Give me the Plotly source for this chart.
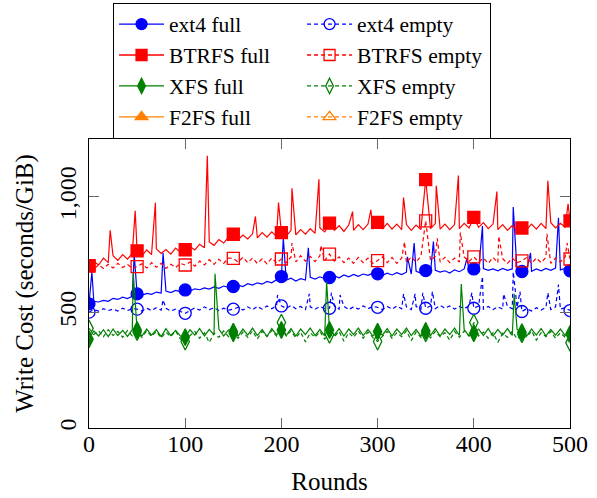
import plotly.graph_objects as go

# Rounds sampled every 5 rounds (0..500)
rounds = list(range(0, 501, 5))

ext4_full = [537, 548, 545, 552, 548, 561, 556, 566, 560, 570, 580,
             574, 582, 578, 588, 584, 592, 586, 595, 590, 597,
             592, 602, 598, 606, 601, 610, 604, 614, 608, 612,
             618, 612, 624, 618, 628, 622, 634, 628, 640, 655,
             640, 648, 636, 646, 640, 652, 644, 654, 646, 651,
             658, 650, 662, 654, 664, 656, 666, 660, 670, 667,
             660, 670, 662, 672, 664, 674, 666, 678, 670, 681,
             672, 682, 674, 680, 670, 684, 676, 688, 680, 688,
             680, 690, 682, 688, 680, 690, 682, 688, 678, 677,
             686, 678, 688, 680, 690, 682, 692, 684, 690, 680]
ext4_full_spike_rounds = [3, 47, 77, 202, 228, 331, 338, 358, 393, 409, 441, 459, 488]
ext4_full_spike_values = [675, 750, 757, 822, 779, 740, 800, 806, 735, 874, 956, 757, 909]

ext4_empty = [501, 512, 506, 516, 508, 514, 506, 518, 508, 516, 514,
              506, 518, 508, 520, 510, 518, 506, 514, 504, 496,
              508, 520, 510, 524, 512, 520, 508, 518, 510, 514,
              522, 510, 524, 512, 526, 514, 528, 516, 530, 528,
              518, 530, 516, 526, 512, 524, 514, 526, 516, 518,
              528, 514, 526, 512, 524, 514, 528, 516, 526, 522,
              512, 526, 514, 528, 516, 524, 512, 526, 514, 518,
              528, 516, 530, 518, 528, 514, 526, 516, 528, 518,
              528, 514, 526, 512, 524, 514, 526, 516, 522, 504,
              516, 506, 520, 510, 522, 512, 524, 514, 520, 508]
ext4_empty_spike_rounds = [77, 196, 229, 252, 261, 327, 339, 347, 357, 398, 409, 431, 441, 448, 477, 488]
ext4_empty_spike_values = [554, 575, 580, 585, 575, 580, 580, 585, 590, 585, 655, 580, 675, 590, 585, 620]

btrfs_full = [702, 720, 705, 735, 715, 745, 725, 750, 730, 755, 766,
              745, 770, 750, 775, 755, 772, 752, 778, 760, 771,
              785, 770, 795, 780, 805, 790, 815, 800, 825, 838,
              815, 835, 818, 840, 822, 845, 825, 848, 828, 845,
              830, 855, 835, 858, 838, 862, 842, 865, 848, 886,
              855, 875, 850, 878, 855, 880, 858, 882, 860, 889,
              862, 885, 860, 882, 858, 880, 855, 878, 858, 1074,
              862, 884, 860, 882, 858, 880, 862, 885, 865, 911,
              868, 888, 862, 882, 858, 880, 855, 876, 852, 865,
              858, 882, 860, 885, 862, 888, 865, 885, 868, 896]
btrfs_full_spike_rounds = [22, 48, 69, 123, 173, 197, 211, 239, 274, 293, 327, 361, 384, 424, 477, 498]
btrfs_full_spike_values = [855, 939, 974, 1177, 915, 975, 1037, 1076, 936, 944, 997, 1048, 1092, 1023, 1069, 970]

btrfs_empty = [700, 688, 705, 690, 708, 692, 712, 694, 708, 690, 698,
               710, 692, 715, 695, 712, 690, 708, 694, 712, 705,
               718, 700, 722, 705, 728, 708, 730, 712, 735, 734,
               718, 738, 715, 735, 712, 732, 710, 735, 714, 731,
               715, 740, 718, 745, 722, 742, 720, 745, 725, 752,
               722, 740, 715, 735, 712, 738, 715, 735, 712, 724,
               740, 715, 738, 712, 735, 715, 740, 718, 742, 896,
               725, 742, 718, 738, 715, 735, 718, 740, 720, 740,
               718, 735, 712, 738, 715, 732, 712, 735, 715, 723,
               738, 712, 735, 715, 738, 712, 735, 718, 740, 731]
btrfs_empty_spike_rounds = [211, 241, 328, 362, 386, 426, 476, 497]
btrfs_empty_spike_values = [800, 790, 805, 820, 845, 830, 840, 800]

xfs_full = [384, 420, 398, 425, 395, 428, 400, 422, 396, 426, 424,
            398, 428, 402, 425, 395, 430, 400, 422, 398, 393,
            425, 402, 430, 398, 426, 404, 428, 398, 424, 417,
            398, 428, 402, 432, 400, 426, 396, 430, 404, 424,
            400, 430, 398, 428, 404, 432, 400, 426, 398, 424,
            402, 430, 398, 428, 404, 432, 400, 426, 398, 417,
            402, 430, 398, 428, 404, 432, 400, 426, 398, 420,
            400, 430, 398, 428, 404, 432, 400, 426, 398, 410,
            428, 400, 430, 398, 426, 402, 430, 400, 426, 414,
            398, 428, 402, 430, 398, 426, 402, 428, 400, 407]
xfs_full_spike_rounds = [46, 131, 247, 387, 442]
xfs_full_spike_values = [670, 667, 633, 623, 580]

xfs_empty = [431, 405, 420, 395, 425, 400, 418, 392, 422, 398, 415,
             392, 420, 396, 418, 390, 415, 395, 420, 385, 374,
             400, 418, 388, 412, 370, 410, 392, 420, 395, 410,
             388, 415, 392, 420, 385, 418, 395, 422, 398, 456,
             398, 420, 390, 415, 372, 412, 392, 418, 385, 403,
             395, 418, 375, 412, 392, 420, 388, 415, 392, 374,
             398, 418, 388, 412, 395, 420, 378, 415, 392, 410,
             390, 418, 395, 412, 380, 418, 392, 420, 398, 456,
             398, 415, 388, 412, 370, 410, 392, 418, 385, 405,
             392, 420, 380, 412, 395, 418, 388, 412, 392, 369]

x_ticks = [0, 100, 200, 300, 400, 500]
y_ticks = [0, 500, 1000]
y_tick_labels = ["0", "500", "1,000"]

BLUE = "#0000ff"
RED = "#ff0000"
GREEN = "#008000"
ORANGE = "#ff8000"
FONT = "Liberation Serif, DejaVu Serif, serif"


def merge(base_x, base_y, sx, sy):
    pts = list(zip(base_x, base_y)) + list(zip(sx, sy))
    pts.sort(key=lambda p: p[0])
    return [p[0] for p in pts], [p[1] for p in pts]


series = [
    ("ext4 full", ext4_full, ext4_full_spike_rounds, ext4_full_spike_values, BLUE, "solid", "circle"),
    ("ext4 empty", ext4_empty, ext4_empty_spike_rounds, ext4_empty_spike_values, BLUE, "4px,3px", "circle-open"),
    ("BTRFS full", btrfs_full, btrfs_full_spike_rounds, btrfs_full_spike_values, RED, "solid", "square"),
    ("BTRFS empty", btrfs_empty, btrfs_empty_spike_rounds, btrfs_empty_spike_values, RED, "4px,3px", "square-open"),
    ("XFS full", xfs_full, xfs_full_spike_rounds, xfs_full_spike_values, GREEN, "solid", "diamond-tall"),
    ("XFS empty", xfs_empty, [], [], GREEN, "4px,3px", "diamond-tall-open"),
]

fig = go.Figure()

# legend entries (2 columns x 4 rows)
legend_items = [
    ("ext4 full", BLUE, "solid", "circle"),
    ("ext4 empty", BLUE, "4px,3px", "circle-open"),
    ("BTRFS full", RED, "solid", "square"),
    ("BTRFS empty", RED, "4px,3px", "square-open"),
    ("XFS full", GREEN, "solid", "diamond-tall"),
    ("XFS empty", GREEN, "4px,3px", "diamond-tall-open"),
    ("F2FS full", ORANGE, "solid", "triangle-up"),
    ("F2FS empty", ORANGE, "4px,3px", "triangle-up-open"),
]
for name, color, dash, sym in legend_items:
    fig.add_trace(go.Scatter(
        x=[None], y=[None], name=name, mode="lines+markers",
        line=dict(color=color, width=1.3, dash=dash),
        marker=dict(symbol=sym, size=11, color=color, line=dict(color=color, width=1.3)),
        showlegend=True))

for name, vals, sx, sy, color, dash, sym in series:
    xs, ys = merge(rounds, vals, sx, sy)
    fig.add_trace(go.Scatter(
        x=xs, y=ys, mode="lines", name=name, showlegend=False,
        line=dict(color=color, width=1.2, dash=dash)))
    mx = rounds[::10]
    my = vals[::10]
    fig.add_trace(go.Scatter(
        x=mx, y=my, mode="markers", name=name, showlegend=False,
        marker=dict(symbol=sym, size=12, color=color, line=dict(color=color, width=1.3))))

fig.update_layout(
    width=597, height=498,
    margin=dict(l=89, r=27, t=139, b=70, autoexpand=False),
    paper_bgcolor="white", plot_bgcolor="white",
    font=dict(family=FONT, size=24, color="black"),
    legend=dict(
        orientation="h", x=0.05, xanchor="left", y=1.472, yanchor="top",
        bgcolor="white", bordercolor="black", borderwidth=1,
        entrywidth=128, entrywidthmode="pixels", itemwidth=45,
        font=dict(family=FONT, size=21.5), tracegroupgap=0,
    ),
    xaxis=dict(
        range=[0, 500], tickvals=x_ticks, ticks="inside", ticklen=10,
        tickcolor="#666", showline=True, linecolor="black", linewidth=1.2,
        mirror="ticks", showgrid=False, zeroline=False, automargin=False,
        ticklabelstandoff=-6,
        title=dict(text="Rounds", font=dict(size=25), standoff=16),
        tickfont=dict(size=24),
    ),
    yaxis=dict(
        range=[0, 1250], tickvals=y_ticks, ticktext=y_tick_labels, tickangle=-90,
        ticks="inside", ticklen=10, tickcolor="#666", ticklabelstandoff=2,
        showline=True, linecolor="black", linewidth=1.2, mirror="ticks",
        showgrid=False, zeroline=False, automargin=False,
        title=dict(text="Write Cost (seconds/GiB)", font=dict(size=25), standoff=14),
        tickfont=dict(size=24),
    ),
)

fig.write_html("out.html", config={"displayModeBar": False},
               post_script="document.body.style.margin='0';")
